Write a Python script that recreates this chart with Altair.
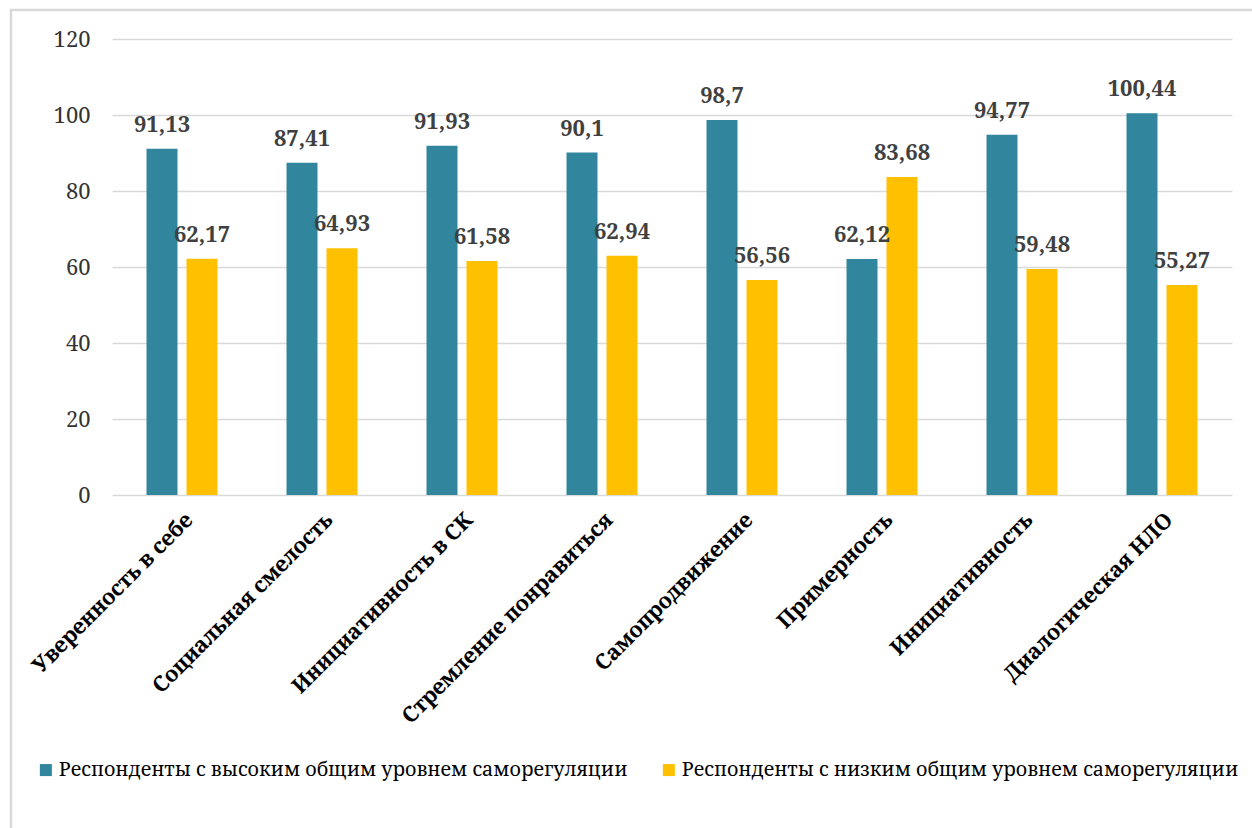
import altair as alt
import pandas as pd

categories = ["Уверенность в себе", "Социальная смелость", "Инициативность в СК",
              "Стремление понравиться", "Самопродвижение", "Примерность",
              "Инициативность", "Диалогическая НЛО"]
high = [91.13, 87.41, 91.93, 90.1, 98.7, 62.12, 94.77, 100.44]
low = [62.17, 64.93, 61.58, 62.94, 56.56, 83.68, 59.48, 55.27]
series = ["Респонденты с высоким общим уровнем саморегуляции",
          "Респонденты с низким общим уровнем саморегуляции"]
colors = ["#31859C", "#FFC000"]

rows = []
for c, h, l in zip(categories, high, low):
    for s, v in zip(series, [h, l]):
        rows.append({"cat": c, "series": s, "value": v,
                     "label": f"{v:g}".replace(".", ",")})
df = pd.DataFrame(rows)

serif = "Noto Serif"

x = alt.X("cat:N", sort=categories, title=None,
          scale=alt.Scale(paddingInner=0.4286, paddingOuter=0.2143),
          axis=alt.Axis(labelAngle=-45, labelFont=serif, labelFontSize=21.5,
                        labelFontWeight="bold", labelColor="#000000",
                        ticks=False, domain=False, labelPadding=14,
                        labelLimit=400))
xo = alt.XOffset("series:N", sort=series,
                 scale=alt.Scale(paddingInner=0.225, paddingOuter=0.1125))
y = alt.Y("value:Q", title=None,
          scale=alt.Scale(domain=[0, 120], nice=False),
          axis=alt.Axis(values=[0, 20, 40, 60, 80, 100, 120], labelFont=serif,
                        labelFontSize=22, labelColor="#333333", ticks=False,
                        domain=False, labelPadding=22, gridColor="#D9D9D9",
                        gridWidth=1.5))

bars = alt.Chart(df).mark_bar().encode(
    x=x, xOffset=xo, y=y,
    color=alt.Color("series:N", sort=series,
                    scale=alt.Scale(domain=series, range=colors),
                    legend=alt.Legend(orient="none", legendX=-76, legendY=721,
                                      padding=0,
                                      direction="horizontal", title=None,
                                      symbolType="square", symbolSize=144,
                                      symbolStrokeWidth=0, labelFont=serif,
                                      labelFontSize=19.7, labelColor="#000000",
                                      labelOffset=3, columnPadding=31,
                                      labelLimit=700))
)

labels = alt.Chart(df).mark_text(font=serif, fontSize=22, fontWeight="bold",
                                 color="#404040", baseline="alphabetic",
                                 dy=-17).encode(
    x=x, xOffset=xo, y=y, text="label:N"
)

frame = alt.Chart(alt.Data(values=[{"a": 1}])).mark_rect(
    fill=None, stroke="#D9D9D9", strokeWidth=2.5).encode(
    x=alt.value(-101), x2=alt.value(1150), y=alt.value(-29), y2=alt.value(810)
)

chart = alt.layer(frame, bars, labels).properties(
    width=1120, height=456,
    autosize=alt.AutoSizeParams(type="none"),
    padding={"left": 112, "top": 39, "right": 20, "bottom": 333},
    background="#FFFFFF"
).configure_view(stroke=None)

chart.save("out.html", embed_options={"renderer": "svg", "actions": False})
